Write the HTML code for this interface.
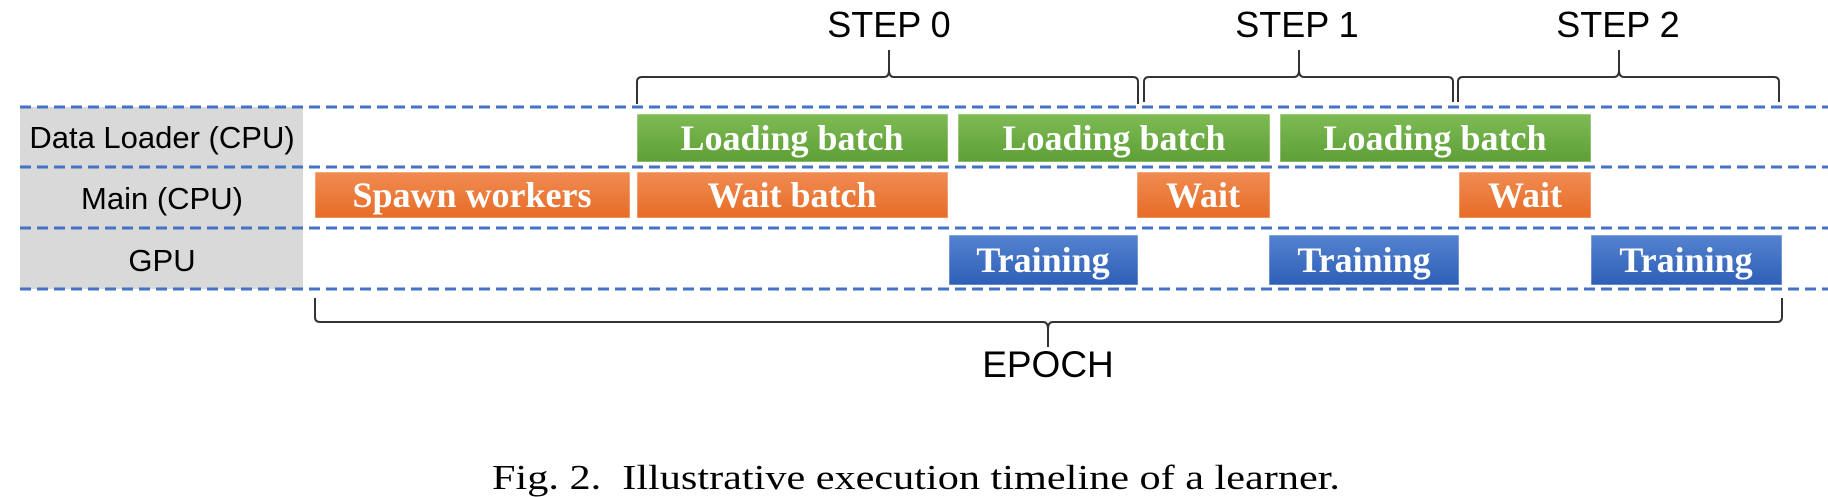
<!DOCTYPE html>
<html><head><meta charset="utf-8"><style>
html,body{margin:0;padding:0;background:#fff;}
svg{display:block;}
.lab{font-family:"Liberation Sans",sans-serif;font-size:31px;fill:#000;}
.big{font-family:"Liberation Sans",sans-serif;font-size:36px;fill:#000;}
.bt{font-family:"Liberation Serif",serif;font-weight:bold;font-size:36px;fill:#fff;}
.cap{font-family:"Liberation Serif",serif;font-size:35px;fill:#000;}
</style></head><body>
<svg width="1828" height="497" viewBox="0 0 1828 497" xmlns="http://www.w3.org/2000/svg">
<defs>
<linearGradient id="g" x1="0" y1="0" x2="0" y2="1"><stop offset="0" stop-color="#7ebb55"/><stop offset="1" stop-color="#5e9f36"/></linearGradient>
<linearGradient id="o" x1="0" y1="0" x2="0" y2="1"><stop offset="0" stop-color="#f08c52"/><stop offset="1" stop-color="#e76c27"/></linearGradient>
<linearGradient id="b" x1="0" y1="0" x2="0" y2="1"><stop offset="0" stop-color="#5583cf"/><stop offset="1" stop-color="#2e5fb8"/></linearGradient>
</defs>
<rect x="20" y="107" width="283" height="182" fill="#d9d9d9"/>
<g stroke="#4472c4" stroke-width="3" stroke-dasharray="11 6">
<line x1="20" y1="107" x2="1828" y2="107"/>
<line x1="20" y1="167" x2="1828" y2="167"/>
<line x1="20" y1="228" x2="1828" y2="228"/>
<line x1="20" y1="289" x2="1828" y2="289"/>
</g>
<text class="lab" x="162" y="148" text-anchor="middle">Data Loader (CPU)</text>
<text class="lab" x="162" y="209" text-anchor="middle">Main (CPU)</text>
<text class="lab" x="162" y="271" text-anchor="middle">GPU</text>
<g stroke="#ffffff" stroke-opacity="0.5" stroke-width="1">
<rect x="637" y="114" width="311" height="48" fill="url(#g)"/>
<rect x="958" y="114" width="312" height="48" fill="url(#g)"/>
<rect x="1280" y="114" width="311" height="48" fill="url(#g)"/>
<rect x="315" y="172" width="315" height="46" fill="url(#o)"/>
<rect x="637" y="172" width="311" height="46" fill="url(#o)"/>
<rect x="1137" y="172" width="133" height="46" fill="url(#o)"/>
<rect x="1459" y="172" width="132" height="46" fill="url(#o)"/>
<rect x="949" y="235" width="189" height="50" fill="url(#b)"/>
<rect x="1269" y="235" width="190" height="50" fill="url(#b)"/>
<rect x="1591" y="235" width="191" height="50" fill="url(#b)"/>
</g>
<g text-anchor="middle" class="bt">
<text x="792" y="150">Loading batch</text>
<text x="1114" y="150">Loading batch</text>
<text x="1435" y="150">Loading batch</text>
<text x="472" y="207">Spawn workers</text>
<text x="792" y="207">Wait batch</text>
<text x="1203" y="207">Wait</text>
<text x="1525" y="207">Wait</text>
<text x="1043" y="272">Training</text>
<text x="1364" y="272">Training</text>
<text x="1686" y="272">Training</text>
</g>
<g fill="none" stroke="#333" stroke-width="2">
<path d="M637 104 V82 Q637 77 642 77 H884 Q889 77 889 70 V50 M889 70 Q889 77 894 77 H1133 Q1138 77 1138 82 V104"/>
<path d="M1144 102 V82 Q1144 77 1149 77 H1294 Q1299 77 1299 70 V50 M1299 70 Q1299 77 1304 77 H1448 Q1453 77 1453 82 V102"/>
<path d="M1458 102 V82 Q1458 77 1463 77 H1614 Q1619 77 1619 70 V50 M1619 70 Q1619 77 1624 77 H1774 Q1779 77 1779 82 V102"/>
<path d="M315 298 V317 Q315 322 320 322 H1043 Q1048 322 1048 329 V347 M1048 329 Q1048 322 1053 322 H1777 Q1782 322 1782 317 V298"/>
</g>
<text class="big" x="889" y="37" text-anchor="middle">STEP 0</text>
<text class="big" x="1297" y="37" text-anchor="middle">STEP 1</text>
<text class="big" x="1618" y="37" text-anchor="middle">STEP 2</text>
<text class="big" x="1048" y="377" text-anchor="middle" style="font-size:37px">EPOCH</text>
<text class="cap" x="492" y="489" textLength="848" lengthAdjust="spacingAndGlyphs" xml:space="preserve">Fig. 2.  Illustrative execution timeline of a learner.</text>
</svg>
</body></html>
